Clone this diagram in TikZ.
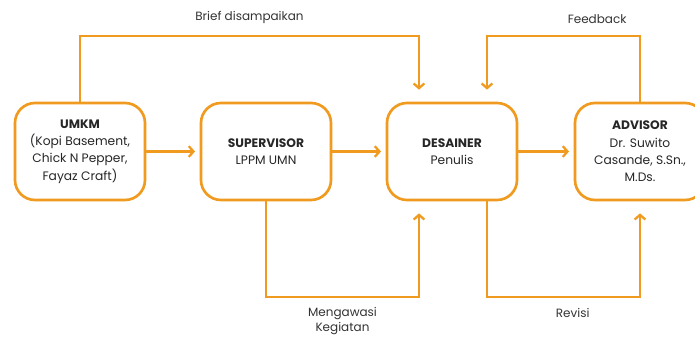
\documentclass[tikz,border=0pt]{standalone}
\usepackage{fontspec}
\setmainfont{Poppins}
\usepackage{tikz}
\usetikzlibrary{positioning,calc}
\usetikzlibrary{arrows.meta}
\definecolor{jingga}{HTML}{F09A1F}
\tikzstyle{box} = [draw=jingga, line width=2pt, rounded corners=15pt, outer sep=0pt,
minimum width=97.5pt, minimum height=72.75pt, align=center,
font=\fontsize{9.2}{13}\selectfont, text=black!85]
\tikzstyle{line} = [draw=jingga, line width=1.7pt, -{Straight Barb[length=3.5pt,width=8pt]}]
\tikzstyle{lbl} = [font=\fontsize{9}{11.5}\selectfont, text=black!80, align=center]

\begin{document}
\begin{tikzpicture}[x=0.75pt, y=-0.75pt]
      \useasboundingbox (0,0) rectangle (695,336);
      \node [box] (U) at (80,151.5) {\textbf{UMKM}\\(Kopi Basement,\\Chick N Pepper,\\Fayaz Craft)};
      \node [box, right=42pt of U] (S) {\textbf{SUPERVISOR}\\LPPM UMN};
      \node [box, right=42pt of S] (D) {\textbf{DESAINER}\\Penulis};
      \node [box, right=43.5pt of D] (A) {\textbf{ADVISOR}\\Dr. Suwito\\Casande, S.Sn.,\\M.Ds.};
      \coordinate (Dn1) at ($(D.north)+(-33,0)$);
      \coordinate (Dn2) at ($(D.north)+(35,0)$);
      \coordinate (Ds1) at ($(D.south)+(-33,0)$);
      \coordinate (Ds2) at ($(D.south)+(35,0)$);
      %% Flows
      \path [line, shorten >=4.5pt] (U) to (S);
      \path [line, shorten >=4.5pt] (S) to (D);
      \path [line, shorten >=4.5pt] (D) to (A);
      \path [line, shorten >=10pt] (U.north) -- (U.north |- 0,36) -| node [pos=0.25, above=5pt, lbl] {Brief disampaikan} (Dn1);
      \path [line, shorten >=10pt] (A.north) -- (A.north |- 0,36) -| node [pos=0.14, above=5pt, lbl] {Feedback} (Dn2);
      \path [line, shorten >=10pt] (S.south) -- (S.south |- 0,297) -| node [pos=0.25, below=3.5pt, lbl] {Mengawasi\\Kegiatan} (Ds1);
      \path [line, shorten >=10pt] (Ds2) -- (Ds2 |- 0,297) -| node [pos=0.28, below=4pt, lbl] {Revisi} (A.south);
    \end{tikzpicture}
\end{document}
